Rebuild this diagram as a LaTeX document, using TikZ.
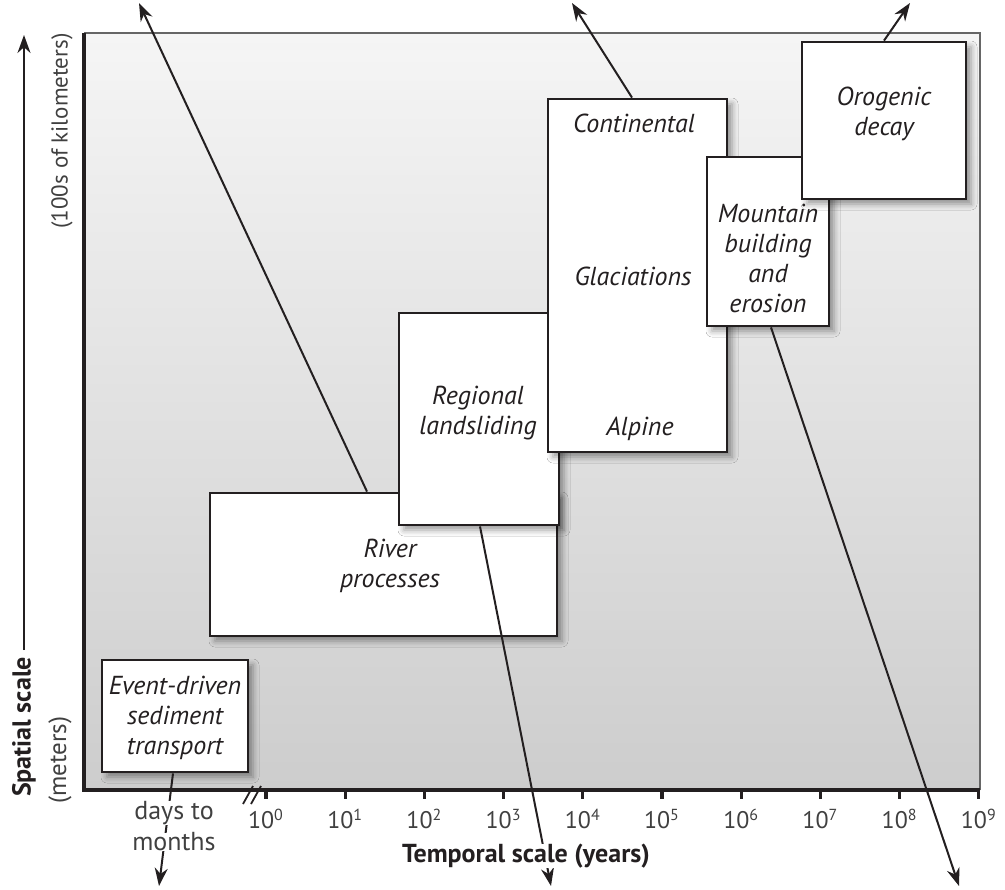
\documentclass[tikz,border=0pt]{standalone}
\usepackage{fontspec}
\setmainfont{PT Sans}
\usetikzlibrary{arrows.meta, fit, shadows.blur}

\definecolor{inkgray}{HTML}{404040}
\definecolor{panetop}{HTML}{F5F5F5}
\definecolor{panemid}{HTML}{E6E6E6}
\definecolor{panebot}{HTML}{CDCDCD}
\definecolor{boxink}{HTML}{231F20}

\tikzset{
    scalebox/.style={draw=boxink, line width=1.4pt, fill=white, inner sep=0pt,
        blur shadow={shadow xshift=2.5pt, shadow yshift=-2.5pt,
            shadow blur radius=3pt, shadow opacity=40}},
    boxtext/.style={font=\itshape\fontsize{13}{15}\selectfont, align=center, text=boxink},
    ticktext/.style={font=\fontsize{12}{14}\selectfont, text=inkgray},
    axistext/.style={font=\bfseries\fontsize{13}{15}\selectfont, text=boxink},
    jump/.style={line width=1pt, draw=boxink, -{Stealth[length=9pt, width=6.5pt]}},
}

\begin{document}
\begin{tikzpicture}[x=0.5pt, y=-0.5pt]
    \useasboundingbox (0,0) rectangle (1005,889);

    % plot pane
    \shade[top color=panetop, middle color=panemid, bottom color=panebot] (84,33) rectangle (980,790);
    \draw[line width=0.6pt, gray!80!black] (84,33) -- (980,33) -- (980,790);
    \draw[line width=1.6pt, boxink] (84,33) -- (84,790) -- (980,790);
    \foreach \k in {0,...,9} {
        \draw[line width=1.6pt, boxink] ({266+79.2*\k},790) -- ++(0,9);
        \node[ticktext] (tick\k) at ({266+79.2*\k},819) {10\textsuperscript{\k}};
    }
    \draw[line width=0.9pt, boxink] (243,804) -- (253,786);
    \draw[line width=0.9pt, boxink] (251,804) -- (261,786);

    % boxes
    \node[scalebox, fit={(102,660) (248,772)}] (event) {};
    \node[scalebox, fit={(210,493) (557,636)}] (river) {};
    \node[scalebox, fit={(399,313) (559,525)}] (regional) {};
    \node[scalebox, fit={(548,99) (727,452)}] (glacial) {};
    \node[scalebox, fit={(707,157) (829,326)}] (mountain) {};
    \node[scalebox, fit={(802,42) (966,199)}] (orogenic) {};

    \node[boxtext] (eventtext) at (175,718) {Event-driven\\sediment\\transport};
    \node[boxtext] (rivertext) at (390,566) {River\\processes};
    \node[boxtext] (regionaltext) at (478,413) {Regional\\landsliding};
    \node[boxtext] (continental) at (634,123) {Continental};
    \node[boxtext] (glaciations) at (633,276) {Glaciations};
    \node[boxtext] (alpine) at (640,429) {Alpine};
    \node[boxtext] (mountaintext) at (768,258) {Mountain\\building\\and\\erosion};
    \node[boxtext] (orogenictext) at (884,114) {Orogenic\\decay};

    % arrows leaving the pane
    \coordinate (riverend) at (139,3);
    \coordinate (glacialend) at (572,3);
    \coordinate (orogenicend) at (910,3);
    \coordinate (eventend) at (159,886);
    \coordinate (regionalend) at (551,886);
    \coordinate (mountainend) at (959,886);
    \draw[jump] (367,0 |- river.north) -- (riverend);
    \draw[jump] (632,0 |- glacial.north) -- (glacialend);
    \draw[jump] (orogenic.north) -- (orogenicend);
    \draw[jump] (173,0 |- event.south) -- (eventend);
    \draw[jump] (480,0 |- regional.south) -- (regionalend);
    \draw[jump] (771,0 |- mountain.south) -- (mountainend);

    % axis labels
    \node[ticktext, font=\fontsize{13}{15}\selectfont, fill=white, inner sep=0pt] (days) at (174,813) {days to};
    \node[ticktext, font=\fontsize{13}{15}\selectfont, fill=white, inner sep=0pt] (months) at (174,842) {months};
    \node[axistext, fill=white, inner sep=0pt] (temporal) at (526,856) {Temporal scale (years)};
    \node[axistext, rotate=90, anchor=west] (spatial) at (24,804) {Spatial scale};
    \coordinate (spatialend) at (24,35);
    \draw[jump] (spatial.east) -- (spatialend);
    \node[ticktext, font=\fontsize{12.5}{14}\selectfont, rotate=90] (meters) at (60,760) {(meters)};
    \node[ticktext, font=\fontsize{11.5}{13.5}\selectfont, rotate=90] (kilometers) at (62,131) {(100s of kilometers)};
\end{tikzpicture}
\end{document}
